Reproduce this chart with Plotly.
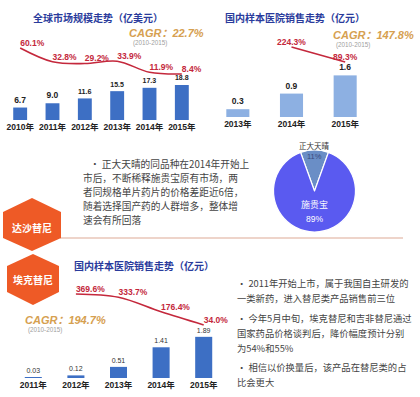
import plotly.graph_objects as go

# ---------------- data ----------------
global_years = ['2010年', '2011年', '2012年', '2013年', '2014年', '2015年']
global_size = [6.7, 9.0, 11.6, 15.5, 17.3, 18.8]
global_growth = [60.1, 32.8, 29.2, 33.9, 11.9, 8.4]

dom_years = ['2013年', '2014年', '2015年']
dom_sales = [0.3, 0.9, 1.6]
dom_growth_years = ['2014年', '2015年']
dom_growth = [224.3, 89.3]

share_labels = ['正大天晴', '施贵宝']
share_values = [11, 89]

icot_years = ['2011年', '2012年', '2013年', '2014年', '2015年']
icot_sales = [0.03, 0.12, 0.51, 1.41, 1.89]
icot_growth_years = ['2012年', '2013年', '2014年', '2015年']
icot_growth = [369.6, 333.7, 176.4, 34.0]

mid_text = ["• 正大天晴的同品种在2014年开始上",
            "市后，不断稀释施贵宝原有市场，两",
            "者同规格单片药片的价格差距近6倍，",
            "随着选择国产药的人群增多，整体增",
            "速会有所回落"]
bottom_text = ["• 2011年开始上市，属于我国自主研发的",
               "一类新药，进入替尼类产品销售前三位",
               "• 今年5月中旬，埃克替尼和吉非替尼通过",
               "国家药品价格谈判后，降价幅度预计分别",
               "为54%和55%",
               "• 相信以价换量后，该产品在替尼类的占",
               "比会更大"]

# ---------------- helpers ----------------
W, H = 420, 397
def px(x): return x / W
def py(y): return 1 - y / H

FONT = "Liberation Sans, Noto Sans CJK SC, sans-serif"
CJK = "Noto Sans CJK SC, sans-serif"
BAR = '#3d6fc4'
BAR_LIGHT = '#8db0e2'
RED = '#c4283c'
TITLE = '#2a3b9c'
GOLD = '#d6a050'

fig = go.Figure()

# top-left chart
fig.add_bar(x=global_years, y=global_size, xaxis='x', yaxis='y', width=0.43,
            marker=dict(color=BAR, line=dict(width=0)),
            text=[f"{v:.1f}" for v in global_size], textposition='outside',
            textfont=dict(size=8.5, color='#222', family=FONT, weight='bold'),
            cliponaxis=False, hoverinfo='skip')
fig.add_scatter(x=global_years, y=global_growth, xaxis='x', yaxis='y2',
                mode='lines+text', line=dict(color=RED, width=1.6, shape='spline'),
                text=[f"{v:.1f}%" for v in global_growth], textposition='top right',
                textfont=dict(size=8.5, color=RED, family=FONT, weight='bold'),
                cliponaxis=False, hoverinfo='skip')

# top-right chart
fig.add_bar(x=dom_years, y=dom_sales, xaxis='x2', yaxis='y3', width=0.43,
            marker=dict(color=BAR_LIGHT, line=dict(width=0)),
            text=[f"{v:.1f}" for v in dom_sales], textposition='outside',
            textfont=dict(size=8.5, color='#222', family=FONT, weight='bold'),
            cliponaxis=False, hoverinfo='skip')
fig.add_scatter(x=dom_growth_years, y=dom_growth, xaxis='x2', yaxis='y4',
                mode='lines+text', line=dict(color=RED, width=1.6),
                text=[f"{v:.1f}%" for v in dom_growth], textposition='top center',
                textfont=dict(size=8.5, color=RED, family=FONT, weight='bold'),
                cliponaxis=False, hoverinfo='skip')

# pie
fig.add_pie(labels=share_labels, values=share_values, sort=False, direction='clockwise',
            rotation=-19.8, textinfo='none', hoverinfo='skip', showlegend=False,
            marker=dict(colors=['#6a8ec6', '#5a5af0'], line=dict(color='white', width=1.2)),
            domain=dict(x=[px(273), px(356)], y=[py(232), py(150)]))

# bottom chart
fig.add_bar(x=icot_years, y=icot_sales, xaxis='x3', yaxis='y5', width=0.4,
            marker=dict(color=BAR, line=dict(width=0)),
            text=[f"{v:.2f}" for v in icot_sales], textposition='outside',
            textfont=dict(size=7, color='#333', family=FONT),
            cliponaxis=False, hoverinfo='skip')
fig.add_scatter(x=icot_growth_years, y=icot_growth, xaxis='x3', yaxis='y6',
                mode='lines+text', line=dict(color=RED, width=1.6, shape='spline'),
                text=[f"{v:.1f}%" for v in icot_growth], textposition='top right',
                textfont=dict(size=8.5, color=RED, family=FONT, weight='bold'),
                cliponaxis=False, hoverinfo='skip')

xcommon = dict(showgrid=False, zeroline=False, showline=False, ticks='',
               tickfont=dict(size=8.5, family=FONT, weight='bold', color='#222'),
               fixedrange=True, type='category')
yhidden = dict(visible=False, fixedrange=True)

fig.update_layout(
    width=W, height=H, margin=dict(l=0, r=0, t=0, b=0),
    paper_bgcolor='white', plot_bgcolor='rgba(0,0,0,0)', showlegend=False,
    font=dict(family=CJK),
    xaxis=dict(domain=[px(4), px(198)], anchor='y', range=[-0.5, len(global_years) - 0.5], **xcommon),
    yaxis=dict(domain=[py(120), py(40)], range=[0, 43], anchor='x', **yhidden),
    yaxis2=dict(overlaying='y', range=[-83, 76], anchor='x', **yhidden),
    xaxis2=dict(domain=[px(211), px(372)], anchor='y3', range=[-0.5, len(dom_years) - 0.5], **xcommon),
    yaxis3=dict(domain=[py(117), py(40)], range=[0, 2.96], anchor='x2', **yhidden),
    yaxis4=dict(overlaying='y3', range=[-406, 287], anchor='x2', **yhidden),
    xaxis3=dict(domain=[px(12), px(225)], anchor='y5', range=[-0.5, len(icot_years) - 0.5], **xcommon),
    yaxis5=dict(domain=[py(378), py(285)], range=[0, 4.27], anchor='x3', **yhidden),
    yaxis6=dict(overlaying='y5', range=[-540, 467], anchor='x3', **yhidden),
)

# shapes: divider + hexagons
def hexpath(pts):
    return 'M ' + ' L '.join(f"{px(x):.5f} {py(y):.5f}" for x, y in pts) + ' Z'

shapes = [
    dict(type='line', xref='paper', yref='paper', x0=px(60), x1=px(403), y0=py(238), y1=py(238),
         line=dict(color='#e8c6b8', width=1.5)),
    dict(type='path', xref='paper', yref='paper',
         path=hexpath([(32, 198), (61, 212), (61, 238), (32, 251), (3, 238), (3, 212)]),
         fillcolor='#ee5a26', line=dict(width=0)),
    dict(type='path', xref='paper', yref='paper',
         path=hexpath([(33, 254), (59, 266), (59, 292), (33, 305), (7, 292), (7, 266)]),
         fillcolor='#ee5a26', line=dict(width=0)),
]
fig.update_layout(shapes=shapes)

ann = []
def A(text, x, y, size, color, bold=False, italic=False, xanchor='center', family=CJK,
      yanchor='middle'):
    t = text
    if bold:
        t = f"<b>{t}</b>"
    if italic:
        t = f"<i>{t}</i>"
    ann.append(dict(text=t, x=px(x), y=py(y), xref='paper', yref='paper', showarrow=False,
                    xanchor=xanchor, yanchor=yanchor, borderpad=0, align='left',
                    font=dict(size=size, color=color, family=family)))

# titles
A("全球市场规模走势（亿美元）", 98, 17, 10, TITLE, bold=True)
A("国内样本医院销售走势（亿元）", 295, 18, 10, TITLE, bold=True)
A("国内样本医院销售走势（亿元）", 73, 265, 10, TITLE, bold=True, xanchor='left')

# CAGR
A("CAGR：22.7%", 166, 33, 11, GOLD, bold=True, italic=True, family=FONT)
A("(2010-2015)", 150, 42.5, 6.3, '#a0a0a0', family=FONT)
A("CAGR：147.8%", 373, 35, 11, GOLD, bold=True, italic=True, family=FONT)
A("(2010-2015)", 353, 45, 6.3, '#a0a0a0', family=FONT)
A("CAGR：194.7%", 65, 320, 11, GOLD, bold=True, italic=True, family=FONT)
A("(2010-2015)", 45, 329.5, 6.3, '#a0a0a0', family=FONT)

# pie labels
A(share_labels[0], 314, 145, 7.5, '#333')
A(f"{share_values[0]}%", 314, 156, 7.5, '#3a4a80', family=FONT)
A(share_labels[1], 314, 205, 9, 'white')
A(f"{share_values[1]}%", 314, 219, 8.5, 'white', family=FONT)

# hexagon labels
A("达沙替尼", 32, 227, 10, 'white', bold=True)
A("埃克替尼", 33, 279, 10, 'white', bold=True)

# middle text
mid_y = [163.5, 177.7, 191.9, 206.1, 220.3]
for i, (t, yy) in enumerate(zip(mid_text, mid_y)):
    A(t, 89 if i == 0 else 82, yy, 9.7, '#444', xanchor='left')

bot_y = [283, 298, 318, 333, 348, 367, 382]
for t, yy in zip(bottom_text, bot_y):
    A(t, 236, yy, 9.3, '#444', xanchor='left')

fig.update_layout(annotations=ann)

fig.write_html("out.html", config={'displayModeBar': False},
               post_script="document.body.style.margin='0';document.body.style.overflow='hidden';")
